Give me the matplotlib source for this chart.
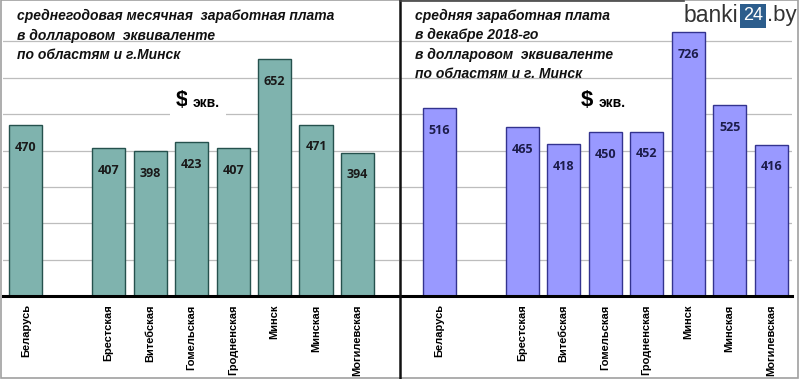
"""
Средняя заработная плата по областям Беларуси в долларовом эквиваленте
"""

import matplotlib.pyplot as plt
from matplotlib.patches import Rectangle

# Данные
regions = ['Беларусь', 'Брестская', 'Витебская', 'Гомельская',
           'Гродненская', 'Минск', 'Минская', 'Могилевская']
positions = [0, 2, 3, 4, 5, 6, 7, 8]
avg_year = [470, 407, 398, 423, 407, 652, 471, 394]
dec_2018 = [516, 465, 418, 450, 452, 726, 525, 416]

title_left = ['среднегодовая месячная  заработная плата',
              'в долларовом  эквиваленте',
              'по областям и г.Минск']
title_right = ['средняя заработная плата',
               'в декабре 2018-го',
               'в долларовом  эквиваленте',
               'по областям и г. Минск']

W, H = 800, 379
fig = plt.figure(figsize=(8.0, 3.79), dpi=100)

bottom = 1 - 296 / H
height = 291 / H
ax1 = fig.add_axes([3 / W, bottom, 396 / W, height])
ax2 = fig.add_axes([401 / W, bottom, 391 / W, height])


def draw_panel(ax, values, face, edge, txtcol, xlim):
    ax.set_axisbelow(True)
    ax.bar(positions, values, width=0.8, color=face, edgecolor=edge,
           linewidth=1.0, zorder=2)
    for x, v in zip(positions, values):
        ax.annotate(str(v), (x, v), xytext=(0, -16), textcoords='offset points',
                    ha='center', va='center', fontsize=9, fontweight='bold',
                    color=txtcol, family='Open Sans', zorder=3)
    ax.set_ylim(0, 800)
    ax.set_xlim(*xlim)
    ax.set_yticks(range(100, 800, 100))
    ax.yaxis.grid(True, color='#bdbdbd', linewidth=0.9)
    ax.tick_params(axis='y', left=False, labelleft=False)
    ax.tick_params(axis='x', length=0, pad=6)
    ax.set_xticks(positions)
    ax.set_xticklabels(regions, rotation=90, fontsize=8, fontweight='bold',
                       family='Liberation Sans', va='top')
    for s in ['top', 'left', 'right']:
        ax.spines[s].set_visible(False)
    ax.spines['bottom'].set_linewidth(2.2)
    ax.spines['bottom'].set_color('black')
    ax.patch.set_alpha(0)


draw_panel(ax1, avg_year, '#7fb3ae', '#25514d', '#1a1a1a', (-0.55, 9.0))
draw_panel(ax2, dec_2018, '#9999ff', '#33338f', '#1c1c4a', (-0.92, 8.5))

# белая подложка под "$ экв." на правой панели
ax2.add_patch(Rectangle((0.42, 470), 5.3, 60, facecolor='white',
                        edgecolor='none', zorder=1.5))

# Заголовки
for i, line in enumerate(title_left):
    fig.text(17 / W, 1 - (16 + 19.5 * i) / H, line, fontsize=10,
             fontweight='bold', style='italic', family='Liberation Sans',
             va='center', color='#111111')
for i, line in enumerate(title_right):
    fig.text(415 / W, 1 - (16 + 19.3 * i) / H, line, fontsize=10,
             fontweight='bold', style='italic', family='Liberation Sans',
             va='center', color='#111111')

# "$ экв."
fig.text(176 / W, 1 - 100 / H, '$', fontsize=16, fontweight='bold',
         family='Liberation Sans', va='center',
         bbox=dict(facecolor='white', edgecolor='none', pad=4))
fig.text(193 / W, 1 - 103 / H, 'экв.', fontsize=10, fontweight='bold',
         family='Liberation Sans', va='center',
         bbox=dict(facecolor='white', edgecolor='none', pad=4))
fig.text(581 / W, 1 - 100 / H, '$', fontsize=16, fontweight='bold',
         family='Liberation Sans', va='center')
fig.text(599 / W, 1 - 103 / H, 'экв.', fontsize=10, fontweight='bold',
         family='Liberation Sans', va='center')

# логотип
fig.text(684 / W, 1 - 16 / H, 'banki', fontsize=16.5, color='#333333',
         family='Liberation Sans', va='center')
fig.text(743 / W, 1 - 16 / H, '24', fontsize=13, color='white',
         family='Liberation Sans', va='center',
         bbox=dict(facecolor='#2c5d8c', edgecolor='none', pad=2.5))
fig.text(767 / W, 1 - 16 / H, '.by', fontsize=16, color='#333333',
         family='Liberation Sans', va='center')

# разделитель и рамка
fig.add_artist(plt.Line2D([399.5 / W, 399.5 / W], [0, 1], color='#111111',
                          linewidth=1.8))
fig.add_artist(plt.Line2D([400 / W, 684 / W], [1 - 0.8 / H, 1 - 0.8 / H],
                          color='#444444', linewidth=1.2))
fig.add_artist(Rectangle((0.5 / W, 1.5 / H), 797 / W, 1 - 1.8 / H,
                         fill=False, edgecolor='#a0a0a0', linewidth=1.2,
                         transform=fig.transFigure))

plt.savefig('out.png', dpi=100)
